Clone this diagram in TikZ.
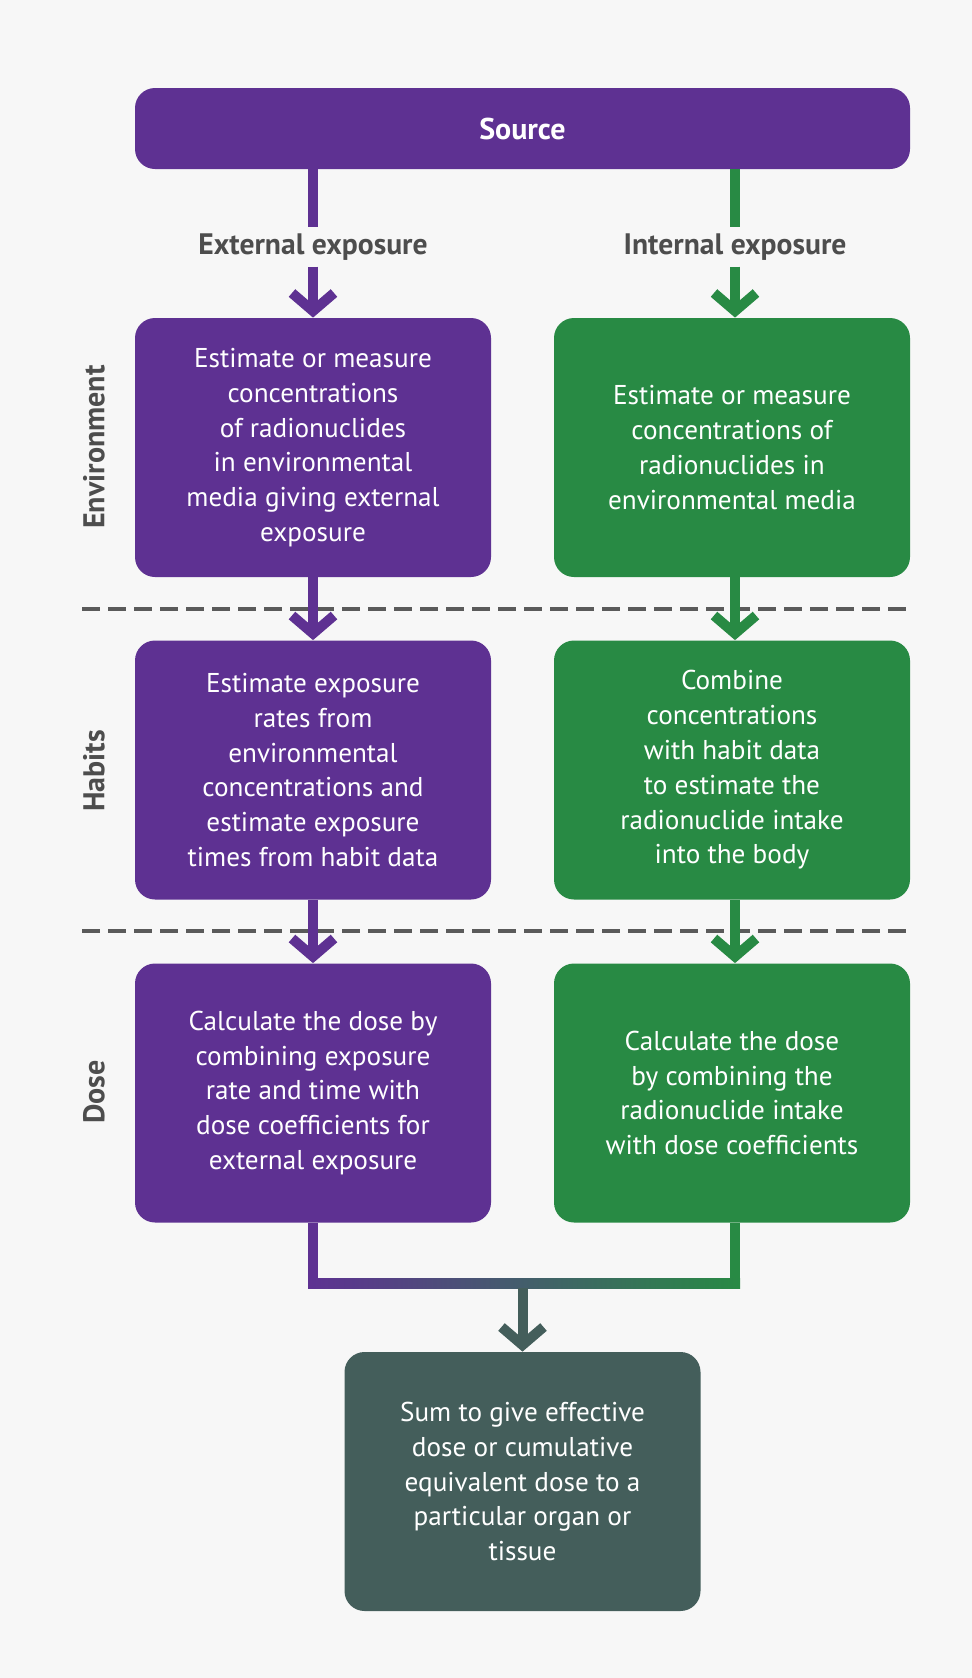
\documentclass[tikz,border=0pt]{standalone}
\usepackage{fontspec}
\setmainfont{PT Sans}
\usepackage{tikz}
\usetikzlibrary{arrows.meta,positioning,calc}
\definecolor{srcpurple}{HTML}{5E3192}
\definecolor{intgreen}{HTML}{288A44}
\definecolor{sumteal}{HTML}{445E5B}
\definecolor{labelgray}{HTML}{4D4D4D}
\definecolor{rulegray}{HTML}{5A5A5A}
\definecolor{pagebg}{HTML}{F7F7F7}

\begin{document}
\begin{tikzpicture}[
  x=0.5pt,y=-0.5pt,
  box/.style={rounded corners=10pt,text=white,align=center,
    font=\fontsize{13.6pt}{17.4pt}\selectfont,minimum width=178pt,
    minimum height=129.5pt,inner sep=4pt},
  extbox/.style={box,fill=srcpurple},
  intbox/.style={box,fill=intgreen},
  sumbox/.style={box,fill=sumteal},
  route/.style={font=\fontsize{14.8pt}{17pt}\selectfont\bfseries,
    text=labelgray,inner sep=3pt},
  stage/.style={route,font=\fontsize{15pt}{17pt}\selectfont\bfseries,rotate=90},
  flow/.style={line width=5pt,-{Straight Barb[length=9pt,width=21pt]}},
  stem/.style={line width=5pt},
  divider/.style={rulegray,line width=2pt,dash pattern=on 9pt off 4pt}
]
\fill[pagebg] (0,0) rectangle (972,1678);
\useasboundingbox (0,0) rectangle (972,1678);

% source and the two routes
\node[box,fill=srcpurple,minimum width=387.5pt,minimum height=40.5pt,
  font=\fontsize{15pt}{17pt}\selectfont\bfseries] (src) at (522.5,128.5) {Source};
\node[route] (extlab) at (313,247) {External exposure};
\node[route] (intlab) at (735,247) {Internal exposure};

% stage dividers
\draw[divider] (82,609) -- (910,609);
\draw[divider] (82,931) -- (910,931);
\node[stage] (envlab) at (94,447) {Environment};
\node[stage] (hablab) at (94,771) {Habits};
\node[stage] (doslab) at (94,1092) {Dose};

% external column
\node[extbox] (envext) at (313,447.5)
  {Estimate or measure\\concentrations\\of radionuclides\\in environmental\\media giving external\\exposure};
\node[extbox] (habext) at (313,770)
  {Estimate exposure\\rates from\\environmental\\concentrations and\\estimate exposure\\times from habit data};
\node[extbox] (dosext) at (313,1093)
  {Calculate the dose by\\combining exposure\\rate and time with\\dose coefficients for\\external exposure};

% internal column
\node[intbox] (envint) at (732,447.5)
  {Estimate or measure\\concentrations of\\radionuclides in\\environmental media};
\node[intbox] (habint) at (732,770)
  {Combine\\concentrations\\with habit data\\to estimate the\\radionuclide intake\\into the body};
\node[intbox] (dosint) at (732,1093)
  {Calculate the dose\\by combining the\\radionuclide intake\\with dose coefficients};

% total
\node[sumbox] (sum) at (522.5,1481.5)
  {Sum to give effective\\dose or cumulative\\equivalent dose to a\\particular organ or\\tissue};
\coordinate (mrg) at (522.5,1283);

\draw[stem,srcpurple] (src.south -| extlab) -- (extlab);
\draw[flow,srcpurple] (extlab) -- (envext);
\draw[stem,intgreen] (src.south -| intlab) -- (intlab);
\draw[flow,intgreen] (intlab) -- (envint.north -| intlab);
\draw[flow,srcpurple] (envext) -- (habext);
\draw[flow,srcpurple] (habext) -- (dosext);
\draw[flow,intgreen] (envint.south -| intlab) -- (habint.north -| intlab);
\draw[flow,intgreen] (habint.south -| intlab) -- (dosint.north -| intlab);

% merge of both doses
\draw[stem,srcpurple] (dosext.south) -- ($(dosext.south |- mrg)+(0,5)$);
\draw[stem,intgreen] (dosint.south -| intlab) -- ($(intlab |- mrg)+(0,5)$);
\shade[left color=srcpurple,right color=intgreen]
  ($(dosext.south |- mrg)+(-5,-5)$) rectangle ($(intlab |- mrg)+(5,5)$);
\draw[flow,sumteal] ($(mrg)+(0,5)$) -- (sum);
\end{tikzpicture}
\end{document}
